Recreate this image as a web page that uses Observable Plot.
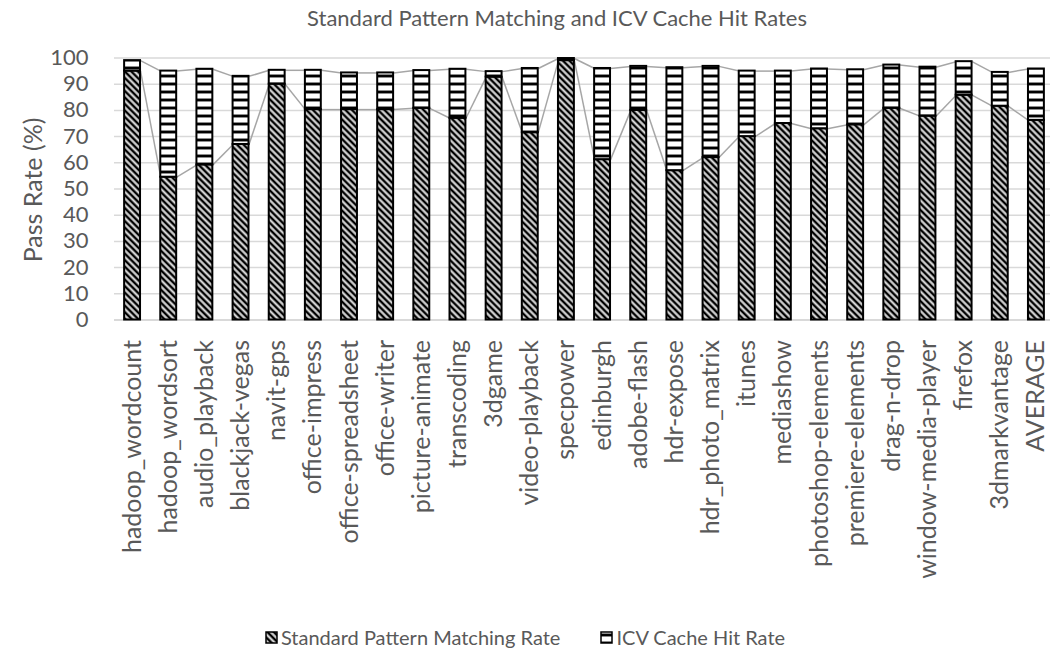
<!DOCTYPE html>
<html><head><meta charset="utf-8">
<script src="https://cdn.jsdelivr.net/npm/d3@7"></script>
<script src="https://cdn.jsdelivr.net/npm/@observablehq/plot@0.6"></script>
<style>
body{margin:0;background:#fff;font-family:Lato,"Open Sans",sans-serif;color:#595959;}
#wrap{position:relative;width:1050px;height:664px;overflow:hidden;}
#wrap svg{position:absolute;left:0;top:0;}
.title{position:absolute;top:4px;left:557px;transform:translateX(-50%);white-space:nowrap;font-size:22px;}
.ytitle{position:absolute;left:32px;top:190px;transform:translate(-50%,-50%) rotate(-90deg);white-space:nowrap;font-size:25px;}
.legend{position:absolute;top:625px;left:0;width:1050px;display:flex;justify-content:center;align-items:center;font-size:20px;white-space:nowrap;}
.legend .item{display:flex;align-items:center;}
.legend svg{position:static !important;margin-right:3px;}
</style></head><body>
<div id="wrap">
  <div class="title">Standard Pattern Matching and ICV Cache Hit Rates</div>
  <div class="ytitle">Pass Rate (%)</div>
  <div class="legend">
    <div class="item"><svg width="13" height="13"><rect x="1" y="1" width="11" height="11" fill="url(#pdiag)" stroke="#000" stroke-width="1.5"/></svg><span>Standard Pattern Matching Rate</span></div>
    <div class="item" style="margin-left:40px"><svg width="13" height="13"><rect x="1" y="1" width="11" height="11" fill="url(#phoriz)" stroke="#000" stroke-width="1.5"/></svg><span>ICV Cache Hit Rate</span></div>
  </div>
</div>
<script>
const categories = ["hadoop_wordcount","hadoop_wordsort","audio_playback","blackjack-vegas","navit-gps","office-impress","office-spreadsheet","office-writer","picture-animate","transcoding","3dgame","video-playback","specpower","edinburgh","adobe-flash","hdr-expose","hdr_photo_matrix","itunes","mediashow","photoshop-elements","premiere-elements","drag-n-drop","window-media-player","firefox","3dmarkvantage","AVERAGE"];
const spmRate = [95,54.5,59.2,67,90,80.3,80.3,80.3,80.8,77,92.7,71.5,99,61.2,80,57,62,70,75,73,74.5,80.8,77.8,85.8,81.6,76.2];
const icvRate = [4,40.5,36.5,26,5.3,15,14,14,14.4,18.7,2.1,24.5,0.8,34.8,16.8,39.3,34.8,25,20,22.8,21,16.5,18.7,12.8,12.9,19.6];
const yTicks = [0,10,20,30,40,50,60,70,80,90,100];

const half = 0.22;
const rows = categories.map((c, i) => ({i, c, spm: spmRate[i], icv: icvRate[i], total: spmRate[i] + icvRate[i]}));
const links = rows.slice(0, -1).map((d, k) => ({a: d, b: rows[k + 1]}));

const chart = Plot.plot({
  width: 1050,
  height: 664,
  marginTop: 57.5,
  marginBottom: 344.5,
  marginLeft: 114,
  marginRight: 0,
  style: {fontFamily: "Lato, 'Open Sans', sans-serif", fontSize: "20px", color: "#595959", background: "transparent"},
  x: {domain: [-0.5, 25.5], range: [114, 1054], axis: null},
  y: {domain: [0, 100], axis: null},
  marks: [
    Plot.gridY(yTicks, {stroke: "#d9d9d9", strokeOpacity: 1, strokeWidth: 1.5}),
    Plot.ruleY([0], {stroke: "#d9d9d9", strokeWidth: 2}),
    Plot.axisY(yTicks, {tickSize: 0, tickPadding: 26, fontSize: 22, fill: "#595959", label: null}),
    Plot.axisX(rows.map(d => d.i), {tickSize: 0, tickPadding: 20, tickRotate: -90, tickFormat: i => categories[i], fontSize: 25, fill: "#595959", label: null}),
    Plot.link(links, {x1: d => d.a.i + half, y1: d => d.a.spm, x2: d => d.b.i - half, y2: d => d.b.spm, stroke: "#a6a6a6", strokeWidth: 1.5}),
    Plot.link(links, {x1: d => d.a.i + half, y1: d => d.a.total, x2: d => d.b.i - half, y2: d => d.b.total, stroke: "#a6a6a6", strokeWidth: 1.5}),
    Plot.rect(rows, {x1: d => d.i - half, x2: d => d.i + half, y1: 0, y2: d => d.spm, fill: "url(#pdiag)", stroke: "#000", strokeWidth: 2}),
    Plot.rect(rows, {x1: d => d.i - half, x2: d => d.i + half, y1: d => d.spm, y2: d => d.total, fill: "url(#phoriz)", stroke: "#000", strokeWidth: 2})
  ]
});

const defs = d3.select(chart).insert("defs", ":first-child");
const pd = defs.append("pattern").attr("id", "pdiag").attr("width", 4.6).attr("height", 4.6)
  .attr("patternUnits", "userSpaceOnUse").attr("patternTransform", "rotate(-45)");
pd.append("rect").attr("width", 4.6).attr("height", 4.6).attr("fill", "#fff");
pd.append("rect").attr("x", 0).attr("width", 2.2).attr("height", 4.6).attr("fill", "#000");
pd.append("rect").attr("x", 2.2).attr("width", 0.8).attr("height", 4.6).attr("fill", "#8c8c8c");
pd.append("rect").attr("x", 3.8).attr("width", 0.8).attr("height", 4.6).attr("fill", "#8c8c8c");
const ph = defs.append("pattern").attr("id", "phoriz").attr("width", 8).attr("height", 8)
  .attr("patternUnits", "userSpaceOnUse");
ph.append("rect").attr("width", 8).attr("height", 8).attr("fill", "#fff");
ph.append("rect").attr("y", 2).attr("width", 8).attr("height", 1).attr("fill", "#8c8c8c");
ph.append("rect").attr("y", 3).attr("width", 8).attr("height", 2).attr("fill", "#000");
ph.append("rect").attr("y", 5).attr("width", 8).attr("height", 1).attr("fill", "#8c8c8c");

document.getElementById("wrap").prepend(chart);
</script>
</body></html>
